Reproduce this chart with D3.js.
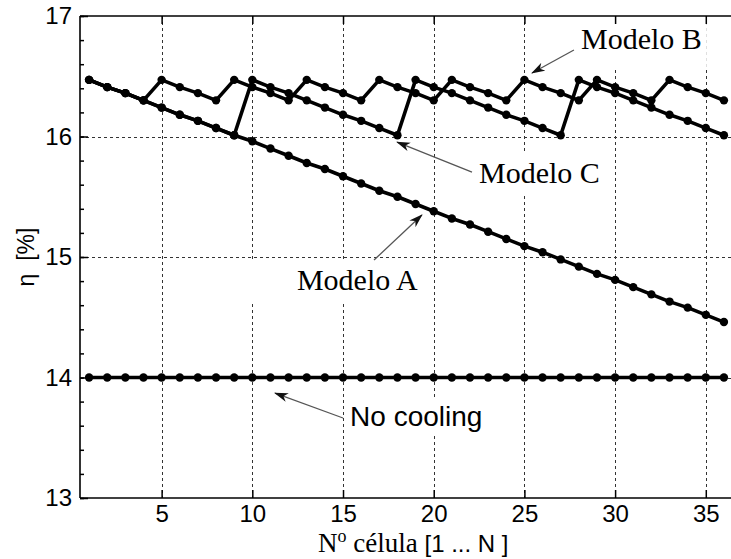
<!DOCTYPE html>
<html>
<head>
<meta charset="utf-8">
<script src="https://cdn.jsdelivr.net/npm/d3@7"></script>
<style>
  body { margin: 0; background: #fff; }
  svg { display: block; }
</style>
</head>
<body>
<svg id="chart" width="731" height="559"></svg>
<script>
// cell numbers on the x axis
var cells = [1, 2, 3, 4, 5, 6, 7, 8, 9, 10, 11, 12, 13, 14, 15, 16, 17, 18,
             19, 20, 21, 22, 23, 24, 25, 26, 27, 28, 29, 30, 31, 32, 33, 34, 35, 36];

// efficiency eta [%] per cell
var noCooling = [14.00, 14.00, 14.00, 14.00, 14.00, 14.00, 14.00, 14.00, 14.00,
                 14.00, 14.00, 14.00, 14.00, 14.00, 14.00, 14.00, 14.00, 14.00,
                 14.00, 14.00, 14.00, 14.00, 14.00, 14.00, 14.00, 14.00, 14.00,
                 14.00, 14.00, 14.00, 14.00, 14.00, 14.00, 14.00, 14.00, 14.00];
var modeloA = [16.47, 16.41, 16.36, 16.30, 16.24, 16.18, 16.13, 16.07, 16.01,
               15.96, 15.90, 15.84, 15.78, 15.73, 15.67, 15.61, 15.55, 15.50,
               15.44, 15.38, 15.32, 15.27, 15.21, 15.15, 15.09, 15.04, 14.98,
               14.92, 14.86, 14.81, 14.75, 14.69, 14.63, 14.58, 14.52, 14.46];
var modeloB = [16.47, 16.41, 16.36, 16.30, 16.47, 16.41, 16.36, 16.30, 16.47,
               16.41, 16.36, 16.30, 16.47, 16.41, 16.36, 16.30, 16.47, 16.41,
               16.36, 16.30, 16.47, 16.41, 16.36, 16.30, 16.47, 16.41, 16.36,
               16.30, 16.47, 16.41, 16.36, 16.30, 16.47, 16.41, 16.36, 16.30];
var modeloC = [16.47, 16.41, 16.36, 16.30, 16.24, 16.18, 16.13, 16.07, 16.01,
               16.47, 16.41, 16.36, 16.30, 16.24, 16.18, 16.13, 16.07, 16.01,
               16.47, 16.41, 16.36, 16.30, 16.24, 16.18, 16.13, 16.07, 16.01,
               16.47, 16.41, 16.36, 16.30, 16.24, 16.18, 16.13, 16.07, 16.01];

var xTicks = [5, 10, 15, 20, 25, 30, 35];
var yTicks = [13, 14, 15, 16, 17];

var svg = d3.select("#chart");
var pLeft = 80, pRight = 733, pTop = 16, pBottom = 498;

var x = d3.scaleLinear().domain([0.5, 36.5]).range([pLeft, pRight]);
var y = d3.scaleLinear().domain([13, 17]).range([pBottom, pTop]);

var sans = "'Liberation Sans', Arial, sans-serif";
var serif = "'Liberation Serif', 'Times New Roman', serif";

// grid
var grid = svg.append("g").attr("stroke", "#333").attr("stroke-width", 1)
    .attr("stroke-dasharray", "3,3");
grid.selectAll(".gx").data(xTicks).enter().append("line")
    .attr("x1", function (d) { return Math.round(x(d)) + 0.5; })
    .attr("x2", function (d) { return Math.round(x(d)) + 0.5; })
    .attr("y1", pTop).attr("y2", pBottom);
grid.selectAll(".gy").data(yTicks.slice(1, -1)).enter().append("line")
    .attr("y1", function (d) { return Math.round(y(d)) + 0.5; })
    .attr("y2", function (d) { return Math.round(y(d)) + 0.5; })
    .attr("x1", pLeft).attr("x2", pRight);

// annotations: label position, arrow tail and tip in data units,
// box = extra white margin [left, right, above baseline, below baseline] in px
var notes = [
    {text: "Modelo B", font: serif, size: 30, tx: 28.12, ty: 16.726,
     from: [27.73, 16.718], to: [25.42, 16.527], box: [-21, 5, 27, 18]},
    {text: "Modelo C", font: serif, size: 30, tx: 22.50, ty: 15.614,
     from: [22.11, 15.705], to: [17.98, 15.954], box: [-39, 3, 30, 12]},
    {text: "Modelo A", font: serif, size: 30, tx: 12.46, ty: 14.726,
     from: [16.71, 14.975], to: [19.35, 15.349], box: [-49, 14, 31, 13]},
    {text: "No cooling", font: sans, size: 28, tx: 15.39, ty: 13.598,
     from: [15.00, 13.664], to: [11.25, 13.871], box: [-5, 7, 26, 10]}
];

var boxes = svg.append("g");
var labels = svg.append("g");
notes.forEach(function (n) {
    var t = labels.append("text")
        .attr("x", x(n.tx)).attr("y", y(n.ty))
        .attr("font-family", n.font).attr("font-size", n.size)
        .attr("fill", "#000")
        .text(n.text);
    var bb = t.node().getBBox();
    boxes.append("rect")
        .attr("x", bb.x + n.box[0])
        .attr("width", bb.width - n.box[0] + n.box[1])
        .attr("y", y(n.ty) - n.box[2])
        .attr("height", n.box[2] + n.box[3])
        .attr("fill", "#fff");
});

// series
var series = [noCooling, modeloA, modeloC, modeloB];
var line = d3.line()
    .x(function (d, i) { return x(cells[i]); })
    .y(function (d) { return y(d); });

var plot = svg.append("g");
series.forEach(function (s) {
    plot.append("path").datum(s)
        .attr("d", line)
        .attr("fill", "none")
        .attr("stroke", "#000")
        .attr("stroke-width", 3.6)
        .attr("stroke-linejoin", "round");
    plot.selectAll(null).data(s).enter().append("circle")
        .attr("cx", function (d, i) { return x(cells[i]); })
        .attr("cy", function (d) { return y(d); })
        .attr("r", 4.2)
        .attr("fill", "#000");
});

// arrows
svg.append("defs").append("marker")
    .attr("id", "head")
    .attr("viewBox", "0 -5 14 10")
    .attr("refX", 13).attr("refY", 0)
    .attr("markerWidth", 14).attr("markerHeight", 10)
    .attr("markerUnits", "userSpaceOnUse")
    .attr("orient", "auto")
    .append("path").attr("d", "M0,-4.5L14,0L0,4.5L4,0Z").attr("fill", "#111");

var arrows = svg.append("g");
notes.forEach(function (n) {
    arrows.append("line")
        .attr("x1", x(n.from[0])).attr("y1", y(n.from[1]))
        .attr("x2", x(n.to[0])).attr("y2", y(n.to[1]))
        .attr("stroke", "#555").attr("stroke-width", 1.3)
        .attr("marker-end", "url(#head)");
});
labels.raise();

// frame and axes
var frame = svg.append("g").attr("stroke", "#000").attr("stroke-width", 1.6);
frame.append("line").attr("x1", pLeft).attr("x2", pRight).attr("y1", pTop).attr("y2", pTop);
frame.append("line").attr("x1", pLeft).attr("x2", pRight).attr("y1", pBottom).attr("y2", pBottom);
frame.append("line").attr("x1", pLeft).attr("x2", pLeft).attr("y1", pTop).attr("y2", pBottom);
frame.append("line").attr("x1", pRight).attr("x2", pRight).attr("y1", pTop).attr("y2", pBottom);

var yAxis = d3.axisLeft(y).tickValues(yTicks).tickSize(-8).tickPadding(8)
    .tickFormat(d3.format("d"));
var yMinor = d3.axisLeft(y).tickValues(d3.range(13, 17.01, 0.2)).tickSize(-4)
    .tickFormat("");
var xAxis = d3.axisBottom(x).tickValues(xTicks).tickSize(-8).tickPadding(7);
var xTop = d3.axisTop(x).tickValues(xTicks).tickSize(-8).tickFormat("");

function styleAxis(g) {
    g.select(".domain").remove();
    g.selectAll(".tick line").attr("stroke", "#000").attr("stroke-width", 1.5);
    g.selectAll("text").attr("font-family", sans).attr("font-size", 24).attr("fill", "#000");
}

svg.append("g").attr("transform", "translate(" + pLeft + ",0)").call(yAxis).call(styleAxis);
svg.append("g").attr("transform", "translate(" + pLeft + ",0)").call(yMinor).call(styleAxis);
svg.append("g").attr("transform", "translate(0," + pBottom + ")").call(xAxis).call(styleAxis);
svg.append("g").attr("transform", "translate(0," + pTop + ")").call(xTop).call(styleAxis);

// axis titles
svg.append("text")
    .attr("transform", "translate(34," + ((pTop + pBottom) / 2) + ") rotate(-90)")
    .attr("text-anchor", "middle")
    .attr("font-family", sans).attr("font-size", 23)
    .attr("xml:space", "preserve")
    .text("\u03b7  [%]");

var xl = svg.append("text")
    .attr("x", 318).attr("y", 552)
    .attr("font-family", serif).attr("font-size", 27);
xl.append("tspan").text("N");
xl.append("tspan").attr("font-size", 18).attr("dy", -10).text("o");
xl.append("tspan").attr("dy", 10).text(" c\u00e9lula ");
xl.append("tspan").attr("font-family", sans).attr("font-size", 24).text("[1 ... N ]");
</script>
</body>
</html>
